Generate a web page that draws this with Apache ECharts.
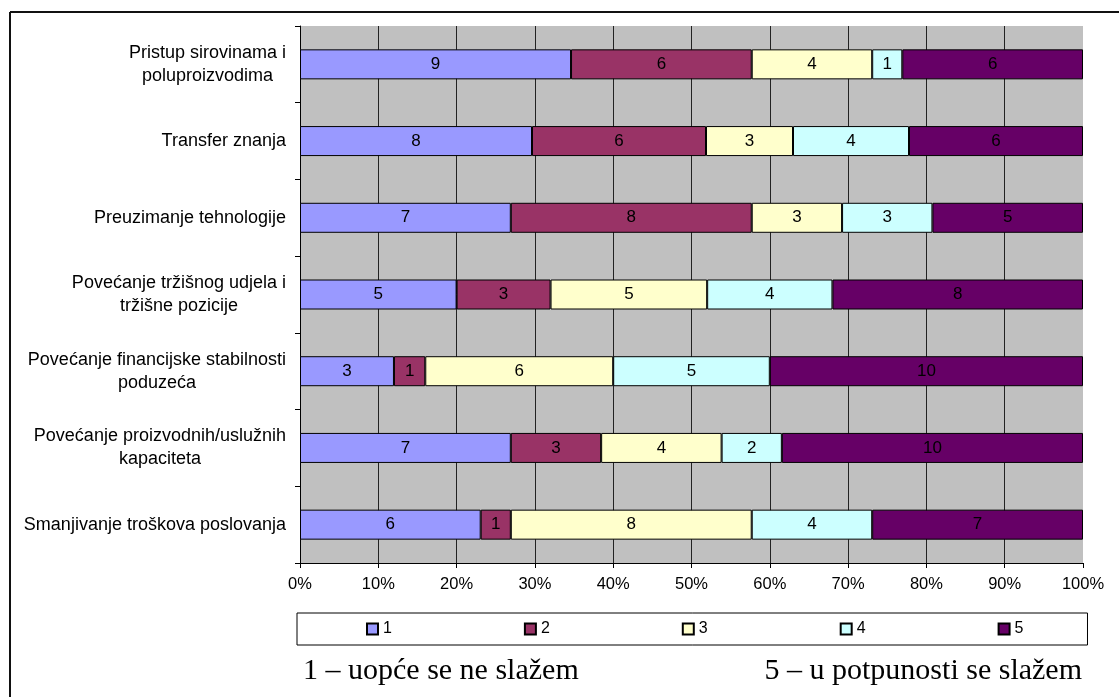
<!DOCTYPE html>
<html>
<head>
<meta charset="utf-8">
<script src="https://cdn.jsdelivr.net/npm/echarts@6/dist/echarts.min.js"></script>
<style>
  html, body { margin: 0; padding: 0; background: #fff; }
  #main { width: 1119px; height: 697px; }
</style>
</head>
<body>
<div id="main"></div>
<script>
// kategorije (odozgo prema dolje)
var categories = [
  "Pristup sirovinama i\npoluproizvodima",
  "Transfer znanja",
  "Preuzimanje tehnologije",
  "Povećanje tržišnog udjela i\ntržišne pozicije",
  "Povećanje financijske stabilnosti\npoduzeća",
  "Povećanje proizvodnih/uslužnih\nkapaciteta",
  "Smanjivanje troškova poslovanja"
];
var seriesNames = ["1", "2", "3", "4", "5"];
var ocjena1 = [9, 8, 7, 5, 3, 7, 6];
var ocjena2 = [6, 6, 8, 3, 1, 3, 1];
var ocjena3 = [4, 3, 3, 5, 6, 4, 8];
var ocjena4 = [1, 4, 3, 4, 5, 2, 4];
var ocjena5 = [6, 6, 5, 8, 10, 10, 7];
var xTicks = [0, 10, 20, 30, 40, 50, 60, 70, 80, 90, 100];
var colors = ["#9999FF", "#993366", "#FFFFCC", "#CCFFFF", "#660066"];

var raw = [ocjena1, ocjena2, ocjena3, ocjena4, ocjena5];
var totals = categories.map(function (c, i) {
  return raw.reduce(function (s, arr) { return s + arr[i]; }, 0);
});

var series = raw.map(function (arr, k) {
  return {
    name: seriesNames[k],
    type: "bar",
    stack: "ukupno",
    barWidth: 30,
    itemStyle: { color: colors[k], borderColor: "#000", borderWidth: 1 },
    label: {
      show: true,
      position: "inside",
      color: "#000",
      fontSize: 17,
      fontFamily: "Liberation Sans, Arial",
      formatter: function (p) { return arr[p.dataIndex]; }
    },
    data: arr.map(function (v, i) { return v / totals[i] * 100; })
  };
});

var myChart = echarts.init(document.getElementById("main"));
myChart.setOption({
  animation: false,
  backgroundColor: "#fff",
  textStyle: { fontFamily: "Liberation Sans, Arial" },
  grid: {
    left: 300, right: 36, top: 26, bottom: 134,
    show: true, backgroundColor: "#C0C0C0", borderWidth: 0
  },
  legend: {
    left: 297, top: 613,
    padding: [8, 64, 8, 69],
    itemGap: 132,
    itemWidth: 11, itemHeight: 11,
    icon: "rect",
    borderColor: "#000", borderWidth: 1, backgroundColor: "#fff",
    textStyle: { fontSize: 16, color: "#000", fontFamily: "Liberation Sans, Arial" },
    data: seriesNames
  },
  xAxis: {
    type: "value",
    min: 0, max: 100, interval: 10,
    axisLine: { show: true, lineStyle: { color: "#000", width: 1 } },
    axisTick: { show: true, length: 5, lineStyle: { color: "#000" } },
    axisLabel: {
      margin: 13, fontSize: 16.5, color: "#000",
      formatter: function (v) { return xTicks.indexOf(v) >= 0 ? v + "%" : ""; }
    },
    splitLine: { show: true, showMaxLine: false, lineStyle: { color: "#222", width: 1 } }
  },
  yAxis: {
    type: "category",
    inverse: true,
    data: categories,
    axisLine: { show: true, lineStyle: { color: "#000", width: 1 } },
    axisTick: { show: true, length: 5, lineStyle: { color: "#000" } },
    axisLabel: {
      margin: 14,
      color: "#000",
      fontSize: 18,
      lineHeight: 23,
      formatter: function (v) {
        return v.split("\n").map(function (l) { return "{c|" + l + "}"; }).join("\n");
      },
      rich: { c: { align: "center", fontSize: 18, lineHeight: 23, color: "#000" } }
    },
    splitLine: { show: false }
  },
  graphic: [
    { type: "line", shape: { x1: 10, y1: 12, x2: 1119, y2: 12 }, style: { stroke: "#111", lineWidth: 2 } },
    { type: "line", shape: { x1: 10, y1: 12, x2: 10, y2: 697 }, style: { stroke: "#111", lineWidth: 2 } },
    {
      type: "text", left: 303, top: 656,
      style: { text: "1 – uopće se ne slažem", fontFamily: "Liberation Serif, Times New Roman", fontSize: 30, fill: "#000" }
    },
    {
      type: "text", right: 37, top: 656,
      style: { text: "5 – u potpunosti se slažem", fontFamily: "Liberation Serif, Times New Roman", fontSize: 30, fill: "#000" }
    }
  ],
  series: series
});
</script>
</body>
</html>
